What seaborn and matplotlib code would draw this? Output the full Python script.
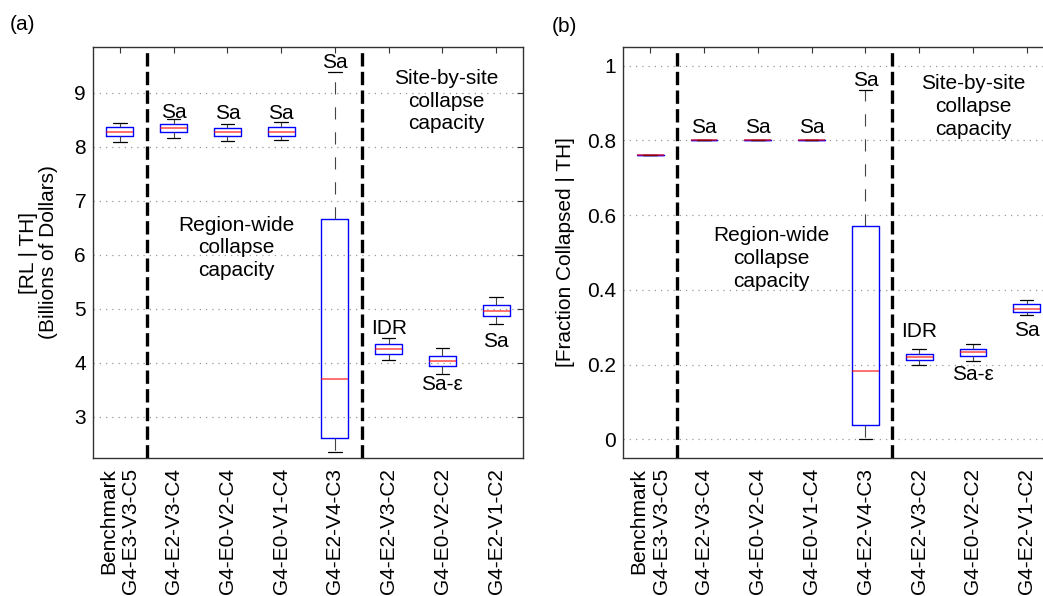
import numpy as np
import pandas as pd
import matplotlib
matplotlib.use("Agg")
import matplotlib.pyplot as plt
import seaborn as sns

# Building-inventory configurations compared in both panels
configs = ["Benchmark\nG4-E3-V3-C5", "G4-E2-V3-C4", "G4-E0-V2-C4", "G4-E0-V1-C4",
           "G4-E2-V4-C3", "G4-E2-V3-C2", "G4-E0-V2-C2", "G4-E2-V1-C2"]

# (a) Regional loss given the time history, billions of dollars (five-number summaries)
loss_min = [8.10, 8.17, 8.11, 8.12, 2.35, 4.06, 3.80, 4.72]
loss_q1  = [8.20, 8.27, 8.20, 8.21, 2.61, 4.17, 3.94, 4.87]
loss_med = [8.27, 8.35, 8.27, 8.28, 3.70, 4.26, 4.04, 4.96]
loss_q3  = [8.36, 8.42, 8.35, 8.36, 6.67, 4.35, 4.13, 5.08]
loss_max = [8.45, 8.52, 8.43, 8.46, 9.38, 4.47, 4.27, 5.22]

# (b) Fraction of buildings collapsed given the time history
frac_min = [0.76, 0.80, 0.80, 0.80, 0.000, 0.200, 0.211, 0.332]
frac_q1  = [0.76, 0.80, 0.80, 0.80, 0.038, 0.212, 0.224, 0.341]
frac_med = [0.76, 0.80, 0.80, 0.80, 0.182, 0.221, 0.233, 0.350]
frac_q3  = [0.76, 0.80, 0.80, 0.80, 0.572, 0.229, 0.241, 0.361]
frac_max = [0.76, 0.80, 0.80, 0.80, 0.935, 0.241, 0.256, 0.373]

# Collapse-capacity intensity measure for each configuration
tags = ["", "Sa", "Sa", "Sa", "Sa", "IDR", "Sa-ε", "Sa"]

y_ticks_a = [3, 4, 5, 6, 7, 8, 9]
y_ticks_b = [0, 0.2, 0.4, 0.6, 0.8, 1.0]
y_ticklabels_b = ["0", "0.2", "0.4", "0.6", "0.8", "1"]


def long_frame(*stats):
    rows = []
    for i, name in enumerate(configs):
        for s in stats:
            rows.append({"config": name, "value": s[i]})
    return pd.DataFrame(rows)


sns.set_style("white")
plt.rcParams["font.family"] = ["Liberation Sans", "DejaVu Sans"]
plt.rcParams["font.size"] = 15
plt.rcParams["text.color"] = "black"
plt.rcParams["axes.labelcolor"] = "black"

fig = plt.figure(figsize=(10.43, 5.96), dpi=100)
ax_a = fig.add_axes([0.0892, 0.2315, 0.4123, 0.6896])
ax_b = fig.add_axes([0.5976, 0.2315, 0.4126, 0.6896])

box_kws = dict(
    x="config", y="value", order=configs, fill=False, color="blue",
    width=0.5, whis=(0, 100), linewidth=1.0, showfliers=False,
    medianprops=dict(color="red", linewidth=1.1, alpha=0.72),
    whiskerprops=dict(color="#444444", linewidth=0.8, linestyle=(0, (11, 11.5))),
    capprops=dict(color="black", linewidth=0.9),
)

sns.boxplot(data=long_frame(loss_min, loss_q1, loss_med, loss_q3, loss_max), ax=ax_a, **box_kws)
sns.boxplot(data=long_frame(frac_min, frac_q1, frac_med, frac_q3, frac_max), ax=ax_b, **box_kws)

# label placement (baseline of each tag) per panel
tag_y_a = [None, 8.53, 8.51, 8.51, 9.46, 4.54, 3.50, 4.30]
tag_y_b = [None, 0.821, 0.821, 0.821, 0.945, 0.274, 0.159, 0.277]

for ax, tag_y, ylim, yt in [(ax_a, tag_y_a, (2.24, 9.85), y_ticks_a),
                            (ax_b, tag_y_b, (-0.05, 1.05), y_ticks_b)]:
    ax.set_xlim(-0.5, 7.5)
    ax.set_ylim(*ylim)
    ax.set_yticks(yt)
    ax.set_xticks(range(len(configs)))
    ax.set_xticklabels(configs, rotation=90, multialignment="right")
    ax.set_xlabel("")
    ax.tick_params(axis="both", direction="in", length=4, width=0.8,
                   top=True, right=True, labelsize=15, colors="#333333",
                   labelcolor="black")
    ax.tick_params(axis="x", pad=7)
    ax.tick_params(axis="y", pad=5)
    ax.yaxis.grid(True, linestyle=(0, (1, 4)), color="#999999", linewidth=0.9)
    ax.xaxis.grid(False)
    ax.set_axisbelow(True)
    for sp in ax.spines.values():
        sp.set_color("#333333")
        sp.set_linewidth(1.0)
    for xv in (0.5, 4.5):
        ax.axvline(xv, color="black", linewidth=2.4, linestyle=(0, (4, 1.6)), zorder=1)
    for i, (t, y) in enumerate(zip(tags, tag_y)):
        if t:
            ax.text(i, y, t, ha="center", va="baseline", fontsize=15)

ax_b.set_yticklabels(y_ticklabels_b)

note_kws = dict(ha="center", va="center", multialignment="center", fontsize=15, linespacing=1.25)
ax_a.text(2.17, 6.13, "Region-wide\ncollapse\ncapacity", **note_kws)
ax_a.text(6.07, 8.85, "Site-by-site\ncollapse\ncapacity", **note_kws)
ax_b.text(2.26, 0.484, "Region-wide\ncollapse\ncapacity", **note_kws)
ax_b.text(6.0, 0.891, "Site-by-site\ncollapse\ncapacity", **note_kws)

ax_a.set_ylabel("[RL | TH]\n(Billions of Dollars)", fontsize=15, linespacing=1.1)
ax_a.yaxis.set_label_coords(-0.081, 0.5)
ax_b.set_ylabel("[Fraction Collapsed | TH]", fontsize=15)
ax_b.yaxis.set_label_coords(-0.112, 0.5)

fig.text(0.009, 1 - 24 / 596, "(a)", fontsize=15, va="center", ha="left")
fig.text(0.529, 1 - 26 / 596, "(b)", fontsize=15, va="center", ha="left")

fig.savefig("out.png", dpi=100)
